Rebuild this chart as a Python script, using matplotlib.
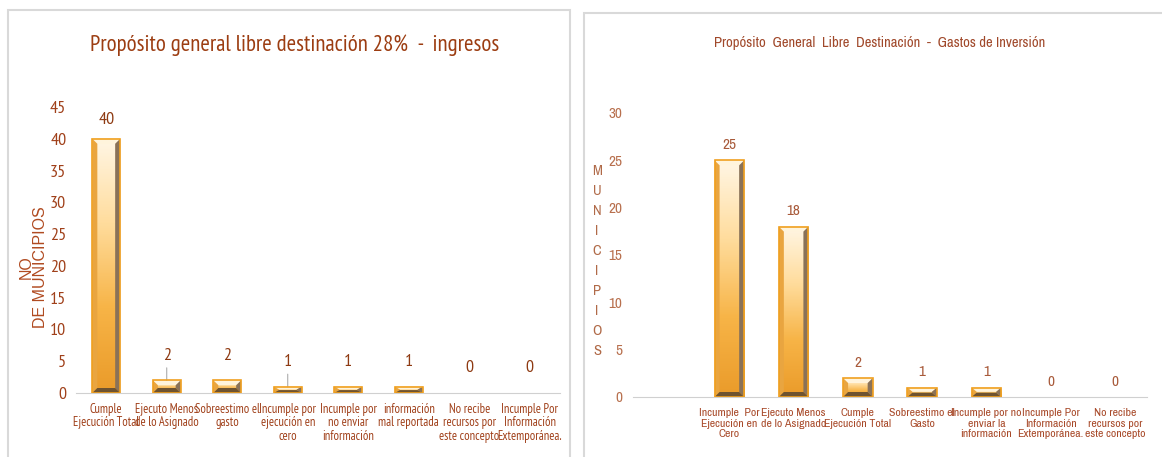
import matplotlib.pyplot as plt
import numpy as np
from matplotlib.colors import LinearSegmentedColormap
from matplotlib.patches import Polygon, Rectangle

# datos
left_title = 'Propósito general libre destinación 28%  -  ingresos'
left_cats = ['Cumple\nEjecución Total', 'Ejecuto Menos\nde lo Asignado', 'Sobreestimo el\ngasto',
             'Incumple por\nejecución en\ncero', 'Incumple por\nno enviar\ninformación',
             'información\nmal reportada', 'No recibe\nrecursos por\neste concepto',
             'Incumple Por\nInformación\nExtemporánea.']
left_vals = [40, 2, 2, 1, 1, 1, 0, 0]
left_ticks = [0, 5, 10, 15, 20, 25, 30, 35, 40, 45]

right_title = 'Propósito  General  Libre  Destinación  -  Gastos de Inversión'
right_cats = ['Incumple  Por\nEjecución en\nCero', 'Ejecuto Menos\nde lo Asignado', 'Cumple\nEjecución Total',
              'Sobreestimo el\nGasto', 'Incumple por no\nenviar la\ninformación',
              'Incumple Por\nInformación\nExtemporánea.', 'No recibe\nrecursos por\neste concepto']
right_vals = [25, 18, 2, 1, 1, 0, 0]
right_ticks = [0, 5, 10, 15, 20, 25, 30]

LFONT = ['PT Sans Narrow', 'DejaVu Sans']
RFONT = ['Archivo Narrow', 'DejaVu Sans']
face_cmap = LinearSegmentedColormap.from_list('gold', ['#fff6e4', '#ffdc9c', '#f7b447', '#ea9b2a'])


def bevel_bar(ax, x, v, w, bev_px=5):
    if v <= 0:
        return
    fig = ax.figure
    fig.canvas.draw()
    p0 = ax.transData.transform((0, 0))
    p1 = ax.transData.transform((1, 1))
    dx = bev_px / (p1[0] - p0[0])
    dy = min(bev_px / (p1[1] - p0[1]), v / 2.2)
    x0, x1 = x - w / 2, x + w / 2
    grad = np.linspace(0, 1, 100).reshape(-1, 1)
    ax.imshow(grad, cmap=face_cmap, aspect='auto', extent=(x0, x1, 0, v), zorder=2)
    ax.add_patch(Polygon([(x0, v), (x1, v), (x1 - dx, v - dy), (x0 + dx, v - dy)],
                         color='#fff4dc', lw=0, zorder=3))
    ax.add_patch(Polygon([(x0, 0), (x0, v), (x0 + dx, v - dy), (x0 + dx, dy)],
                         color='#e9a540', lw=0, zorder=3))
    ax.add_patch(Polygon([(x1, 0), (x1, v), (x1 - dx, v - dy), (x1 - dx, dy)],
                         color='#8a7258', lw=0, zorder=3))
    ax.add_patch(Polygon([(x0, 0), (x1, 0), (x1 - dx, dy), (x0 + dx, dy)],
                         color='#6e5330', lw=0, zorder=3))
    ax.add_patch(Rectangle((x0, 0), w, v, fill=False, ec='#f0a020', lw=1.2, zorder=4))


fig = plt.figure(figsize=(11.62, 4.57), dpi=100)

# marcos de los paneles
fig.add_artist(Rectangle((8 / 1162, -0.05), 562 / 1162, 1.05 - 10 / 457,
                         transform=fig.transFigure, fill=False, ec='#d9d9d9', lw=1.5))
fig.add_artist(Rectangle((584 / 1162, -0.05), 0.6, 1.05 - 13 / 457,
                         transform=fig.transFigure, fill=False, ec='#d9d9d9', lw=1.5))

# ---- panel izquierdo
ax1 = fig.add_axes([76 / 1162, 1 - 393 / 457, 484 / 1162, 286 / 457])
xl = np.arange(len(left_cats))
ax1.set_xlim(-0.5, len(left_cats) - 0.5)
ax1.set_ylim(0, 45)
for x, v in zip(xl, left_vals):
    bevel_bar(ax1, x, v, 0.46)
    lead = 0 < v < 10 and x in (1, 3)
    ax1.annotate(str(v), (x, v), xytext=(0, 8 if v > 10 else 12), textcoords='offset points',
                 ha='center', va='bottom', fontsize=13, color='#8e3a12', family=LFONT,
                 arrowprops=dict(arrowstyle='-', color='#a0a0a0', lw=0.7, shrinkA=1, shrinkB=0) if lead else None)
ax1.set_xticks(xl)
ax1.set_xticklabels(left_cats, fontsize=9, color='#a0401a', family=LFONT, linespacing=1.05)
ax1.set_yticks(left_ticks)
ax1.set_yticklabels([str(t) for t in left_ticks], fontsize=13, color='#a0401a', family=LFONT)
ax1.tick_params(length=0, pad=7)
for s in ['left', 'right', 'top']:
    ax1.spines[s].set_visible(False)
ax1.spines['bottom'].set_color('#d0d0d0')
fig.text(295 / 1162, 1 - 45 / 457, left_title, ha='center', va='center', fontsize=16.5,
         color='#9c3d12', family=LFONT)
fig.text(33 / 1162, 1 - 267 / 457, 'NO\nDE MUNICIPIOS', rotation=90, ha='center', va='center',
         multialignment='center', fontsize=11.5, color='#b04a20', family='Liberation Sans',
         linespacing=0.95)

# ---- panel derecho
ax2 = fig.add_axes([633 / 1162, 1 - 397 / 457, 514 / 1162, 284 / 457])
xr = np.arange(len(right_cats))
ax2.set_xlim(-1.5, len(right_cats) - 0.5)
ax2.set_ylim(0, 30)
for x, v in zip(xr, right_vals):
    bevel_bar(ax2, x, v, 0.46)
    ax2.annotate(str(v), (x, v), xytext=(0, 6), textcoords='offset points', ha='center', va='bottom',
                 fontsize=11, color='#a85a3a', family=RFONT)
ax2.set_xticks(xr)
ax2.set_xticklabels(right_cats, fontsize=8.5, color='#a84a2a', family=RFONT, linespacing=1.05)
ax2.set_yticks(right_ticks)
ax2.set_yticklabels([str(t) for t in right_ticks], fontsize=11, color='#b8704e', family=RFONT)
ax2.tick_params(length=0, pad=8)
for s in ['left', 'right', 'top']:
    ax2.spines[s].set_visible(False)
ax2.spines['bottom'].set_color('#d0d0d0')
fig.text(880 / 1162, 1 - 43 / 457, right_title, ha='center', va='center', fontsize=10.5,
         color='#a0482a', family=RFONT)
fig.text(597 / 1162, 1 - 261 / 457, '\n'.join('MUNICIPIOS'), ha='center', va='center',
         fontsize=10.5, color='#b06a48', family=RFONT, linespacing=1.55)

fig.savefig('out.png', dpi=100)
